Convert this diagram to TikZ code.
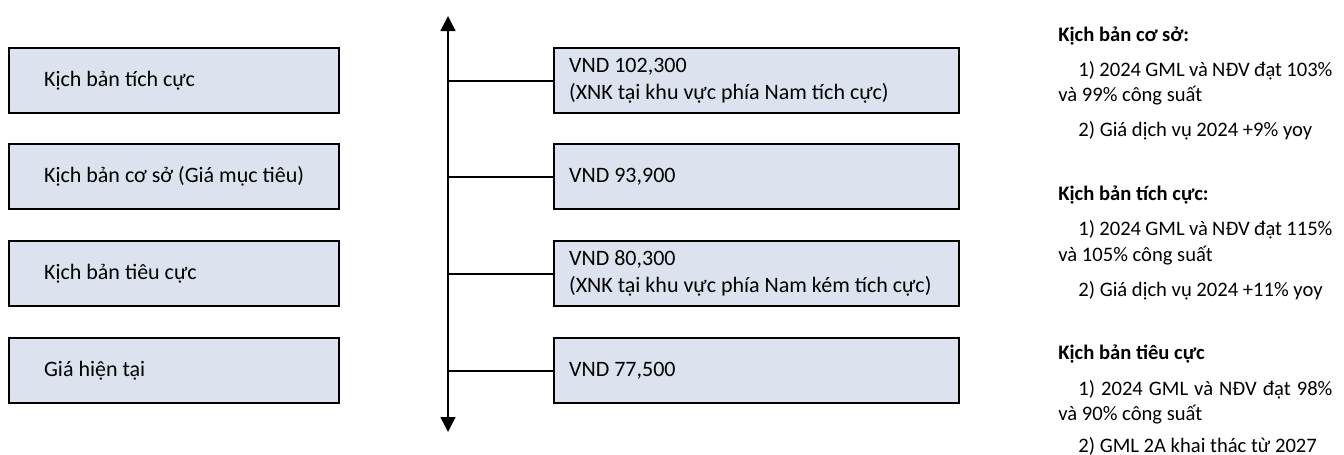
\documentclass[tikz,border=0pt]{standalone}
\usepackage{fontspec}
\setmainfont{Carlito}
\usepackage{tikz}
\usetikzlibrary{positioning, arrows.meta}
\definecolor{boxfill}{RGB}{220,227,238}

\begin{document}
\begin{tikzpicture}[x=0.5pt, y=-0.5pt, font=\fontsize{11}{13.5}\selectfont,
  scen/.style={draw, line width=1.1pt, fill=boxfill, anchor=north west, minimum height=32.5pt, text width=130pt, inner xsep=17.5pt, align=flush left},
  price/.style={draw, line width=1.1pt, fill=boxfill, anchor=north west, minimum height=32.5pt, text width=187.5pt, inner xsep=7.5pt, align=flush left},
  note/.style={anchor=base west, inner sep=0pt, font=\fontsize{10.3}{12}\selectfont},
  link/.style={line width=0.9pt}]
\useasboundingbox (0,0) rectangle (1344,455);

% scenarios
\node[scen] at (8,47) (s1) {Kịch bản tích cực};
\node[scen] at (8,143) (s2) {Kịch bản cơ sở (Giá mục tiêu)};
\node[scen] at (8,240) (s3) {Kịch bản tiêu cực};
\node[scen] at (8,337) (s4) {Giá hiện tại};

% axis
\coordinate (top) at (448,16);
\coordinate (bot) at (448,432);
\draw[line width=0.75pt, {Triangle[width=7.5pt,length=7.5pt]}-{Triangle[width=7.5pt,length=7.5pt]}] (top) -- (bot);

% prices
\node[price] at (553,47) (p1) {VND 102,300\\(XNK tại khu vực phía Nam tích cực)};
\node[price] at (553,143) (p2) {VND 93,900};
\node[price] at (553,240) (p3) {VND 80,300\\(XNK tại khu vực phía Nam kém tích cực)};
\node[price] at (553,337) (p4) {VND 77,500};
\draw[link] (top |- p1.west) -- (p1.west);
\draw[link] (top |- p2.west) -- (p2.west);
\draw[link] (top |- p3.west) -- (p3.west);
\draw[link] (top |- p4.west) -- (p4.west);

% notes
\node[note] at (1058,41) (n1) {\textbf{Kịch bản cơ sở:}};
\node[note] at (1078,76) (n1a) {\makebox[127pt][s]{1) 2024 GML và NĐV đạt 103\%}};
\node[note] at (1058,101) (n1b) {và 99\% công suất};
\node[note] at (1078,136) (n1c) {2) Giá dịch vụ 2024 +9\% yoy};
\node[note] at (1058,200) (n2) {\textbf{Kịch bản tích cực:}};
\node[note] at (1078,235) (n2a) {\makebox[127pt][s]{1) 2024 GML và NĐV đạt 115\%}};
\node[note] at (1058,261) (n2b) {và 105\% công suất};
\node[note] at (1078,296) (n2c) {2) Giá dịch vụ 2024 +11\% yoy};
\node[note] at (1058,359) (n3) {\textbf{Kịch bản tiêu cực}};
\node[note] at (1078,395) (n3a) {\makebox[127pt][s]{1) 2024 GML và NĐV đạt 98\%}};
\node[note] at (1058,420) (n3b) {và 90\% công suất};
\node[note] at (1078,452) (n3c) {2) GML 2A khai thác từ 2027};
\end{tikzpicture}
\end{document}
